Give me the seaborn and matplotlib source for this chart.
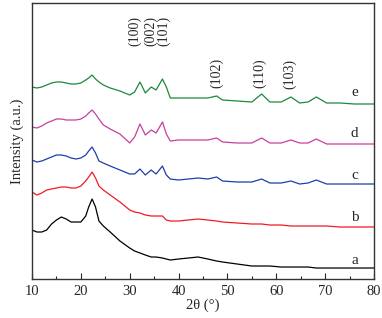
import pandas as pd
import matplotlib
matplotlib.use("Agg")
import matplotlib.pyplot as plt
from matplotlib.ticker import MultipleLocator
import seaborn as sns

two_theta = [10, 11, 12, 13, 14, 15, 16, 17, 18, 19, 20, 21, 21.6, 22.3, 23, 23.7, 24.6, 26, 28, 30,
             31, 32.1, 33.2, 34.4, 35.4, 36.7, 37.5, 38.3, 40, 42, 44, 46, 47.8, 49, 52, 55,
             57, 58.7, 61, 63, 64.8, 66.5, 68.2, 70.3, 73, 76, 80]

int_a = [49, 47, 47, 49, 55, 59, 62, 60, 57, 57, 57, 63, 72, 80, 72, 58, 53, 47, 38, 31,
         28, 26, 24, 22, 22, 21, 20, 19, 20, 21, 22, 20, 18, 17, 15, 13,
         13, 13, 12, 12, 12, 12, 11, 11, 11, 11, 11]
int_b = [87, 84, 86, 89, 90, 91, 92, 92, 91, 91, 93, 98, 102, 107, 101, 93, 89, 84, 77, 69,
         67, 66, 64, 63, 63, 63, 59, 58, 58, 59, 60, 59, 58, 57, 56, 55,
         55, 54, 54, 53, 53, 53, 53, 53, 52, 52, 52]
int_c = [119, 117, 118, 120, 122, 124, 124, 123, 121, 120, 121, 124, 128, 132, 126, 118, 116, 113, 109, 105,
         105, 110, 104, 109, 105, 113, 104, 100, 99, 100, 101, 100, 102, 98, 97, 97,
         100, 96, 96, 98, 95, 96, 99, 95, 95, 95, 95]
int_d = [152, 151, 153, 156, 158, 160, 160, 159, 159, 159, 160, 163, 166, 169, 165, 160, 154, 150, 145, 136,
         142, 155, 144, 149, 146, 157, 145, 138, 139, 139, 139, 139, 141, 137, 136, 136,
         141, 136, 136, 139, 136, 136, 140, 135, 135, 135, 135]
int_e = [192, 191, 192, 194, 196, 197, 197, 196, 195, 195, 196, 199, 201, 204, 200, 197, 194, 191, 188, 184,
         187, 197, 186, 192, 189, 200, 192, 181, 181, 181, 181, 181, 183, 179, 178, 177,
         185, 177, 177, 182, 176, 177, 182, 176, 176, 175, 175]

samples = ["a", "b", "c", "d", "e"]
colors = ["#000000", "#ee1c24", "#1f3fa8", "#c4409e", "#1a8a3c"]
label_y = [19, 62, 104, 146, 186]

planes = ["(100)", "(002)", "(101)", "(102)", "(110)", "(103)"]
plane_x = [31.1, 34.3, 36.9, 47.8, 56.5, 62.8]
plane_y = [233, 233, 233, 191, 191, 190]

df = pd.DataFrame({"two_theta": two_theta, "a": int_a, "b": int_b,
                   "c": int_c, "d": int_d, "e": int_e})
long_df = df.melt(id_vars="two_theta", var_name="sample", value_name="intensity")

sns.set_style("ticks")
plt.rcParams["font.family"] = ["Liberation Serif", "DejaVu Serif"]

fig = plt.figure(figsize=(3.82, 3.18), dpi=100)
ax = fig.add_axes([0.0838, 0.1226, 0.8952, 0.868])

sns.lineplot(data=long_df, x="two_theta", y="intensity", hue="sample",
             palette=dict(zip(samples, colors)), linewidth=0.9, legend=False, ax=ax)

for s, yy in zip(samples, label_y):
    ax.text(76, yy, s, fontsize=11, ha="center", va="center")

for p, xx, yy in zip(planes, plane_x, plane_y):
    ax.text(xx, yy, p, fontsize=10, rotation=90, ha="center", va="bottom")

ax.set_xlim(10, 80)
ax.set_ylim(0, 276)
ax.xaxis.set_major_locator(MultipleLocator(10))
ax.xaxis.set_minor_locator(MultipleLocator(5))
ax.tick_params(axis="x", which="major", direction="in", length=4, width=0.8, labelsize=10.5, pad=4)
ax.tick_params(axis="x", which="minor", direction="in", length=2.5, width=0.8)
ax.set_yticks([])
for sp in ax.spines.values():
    sp.set_linewidth(1.0)
    sp.set_color("#333333")

ax.set_xlabel("2θ (°)", fontsize=10.5, labelpad=1)
ax.set_ylabel("Intensity (a.u.)", fontsize=10.5, labelpad=6)

fig.savefig("out.png", dpi=100)
